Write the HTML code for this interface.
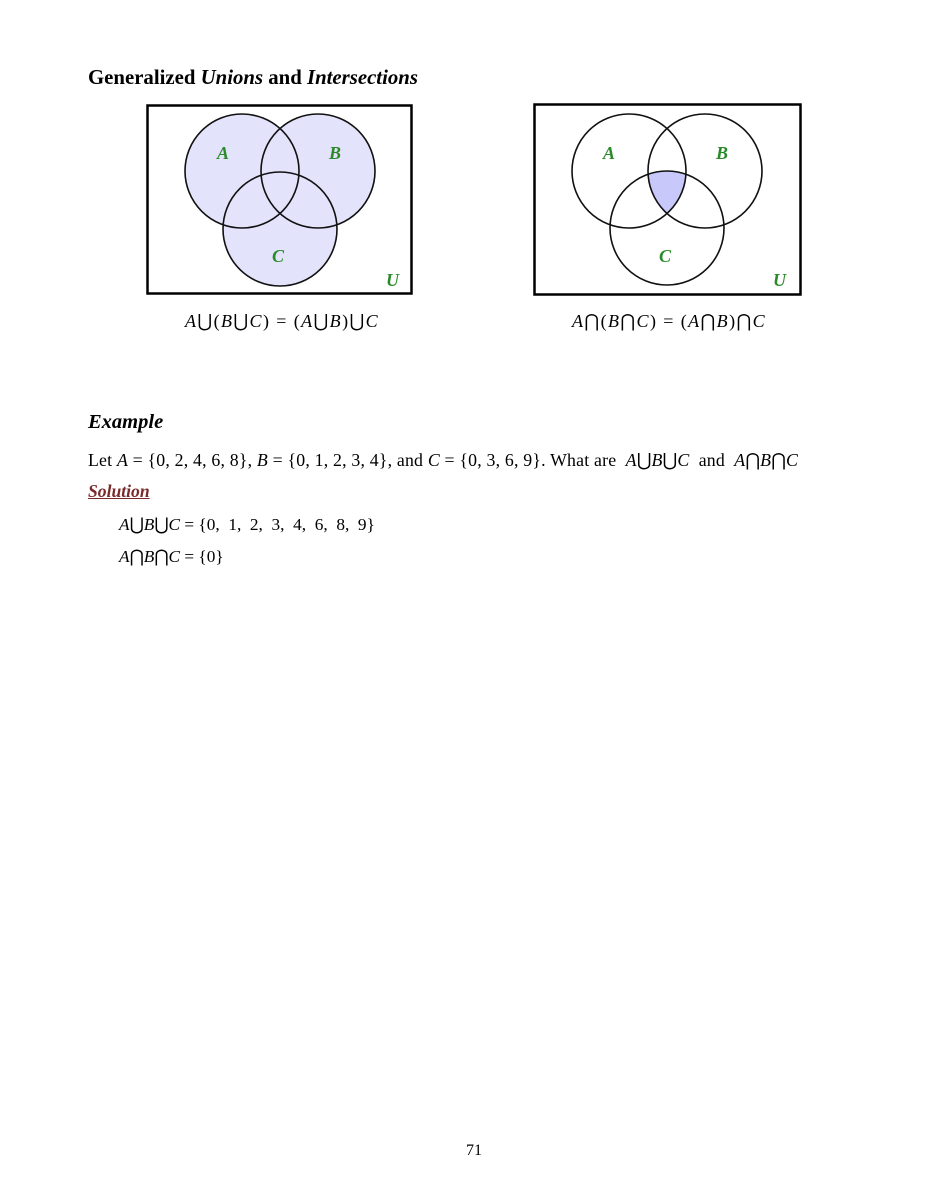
<!DOCTYPE html>
<html><head><meta charset="utf-8"><style>
body{margin:0;background:#fff;}
#page{position:relative;width:927px;height:1200px;background:#fff;font-family:"Liberation Serif",serif;color:#000;}
.t{position:absolute;white-space:nowrap;}
i{font-style:italic;}
</style></head><body>
<div id="page">
<div class="t" style="left:88px;top:66px;font-size:20.8px;font-weight:bold;">Generalized <i>Unions</i> and <i>Intersections</i></div>

<svg width="927" height="340" style="position:absolute;left:0;top:0">
 <defs>
  <clipPath id="cA"><circle cx="629" cy="171" r="57"/></clipPath>
  <clipPath id="cB"><circle cx="705" cy="171" r="57"/></clipPath>
 </defs>
 <g>
  <rect x="147.5" y="105.5" width="264" height="188" fill="#fff" stroke="#000" stroke-width="2.5"/>
  <circle cx="242" cy="171" r="57" fill="#e3e3fb"/>
  <circle cx="318" cy="171" r="57" fill="#e3e3fb"/>
  <circle cx="280" cy="229" r="57" fill="#e3e3fb"/>
  <circle cx="242" cy="171" r="57" fill="none" stroke="#111" stroke-width="1.6"/>
  <circle cx="318" cy="171" r="57" fill="none" stroke="#111" stroke-width="1.6"/>
  <circle cx="280" cy="229" r="57" fill="none" stroke="#111" stroke-width="1.6"/>
  <g font-family="Liberation Serif,serif" font-style="italic" font-weight="bold" font-size="18" fill="#2a8a2a">
   <text x="217" y="159">A</text><text x="329" y="159">B</text><text x="272" y="262">C</text><text x="386" y="286">U</text>
  </g>
 </g>
 <g>
  <rect x="534.5" y="104.5" width="266" height="190" fill="#fff" stroke="#000" stroke-width="2.5"/>
  <g clip-path="url(#cA)"><g clip-path="url(#cB)"><circle cx="667" cy="228" r="57" fill="#c8c8fa"/></g></g>
  <circle cx="629" cy="171" r="57" fill="none" stroke="#111" stroke-width="1.6"/>
  <circle cx="705" cy="171" r="57" fill="none" stroke="#111" stroke-width="1.6"/>
  <circle cx="667" cy="228" r="57" fill="none" stroke="#111" stroke-width="1.6"/>
  <g font-family="Liberation Serif,serif" font-style="italic" font-weight="bold" font-size="18" fill="#2a8a2a">
   <text x="603" y="159">A</text><text x="716" y="159">B</text><text x="659" y="262">C</text><text x="773" y="286">U</text>
  </g>
 </g>
</svg>

<div class="t" style="left:185px;top:311px;font-size:18px;letter-spacing:1.4px;"><i>A</i>⋃(<i>B</i>⋃<i>C</i>) = (<i>A</i>⋃<i>B</i>)⋃<i>C</i></div>
<div class="t" style="left:572px;top:311px;font-size:18px;letter-spacing:1.4px;"><i>A</i>⋂(<i>B</i>⋂<i>C</i>) = (<i>A</i>⋂<i>B</i>)⋂<i>C</i></div>

<div class="t" style="left:88px;top:411px;font-size:20.5px;font-weight:bold;font-style:italic;">Example</div>
<div class="t" style="left:88px;top:450px;font-size:17.8px;letter-spacing:0.2px;">Let <i>A</i> = {0, 2, 4, 6, 8}, <i>B</i> = {0, 1, 2, 3, 4}, and <i>C</i> = {0, 3, 6, 9}. What are &nbsp;<i>A</i>⋃<i>B</i>⋃<i>C</i>&nbsp; and &nbsp;<i>A</i>⋂<i>B</i>⋂<i>C</i></div>
<div class="t" style="left:88px;top:481px;font-size:17.6px;font-weight:bold;font-style:italic;color:#7a2a2a;text-decoration:underline;">Solution</div>
<div class="t" style="left:119px;top:515px;font-size:17.3px;"><i>A</i>⋃<i>B</i>⋃<i>C</i> = {0,&nbsp; 1,&nbsp; 2,&nbsp; 3,&nbsp; 4,&nbsp; 6,&nbsp; 8,&nbsp; 9}</div>
<div class="t" style="left:119px;top:547px;font-size:17.3px;"><i>A</i>⋂<i>B</i>⋂<i>C</i> = {0}</div>

<div class="t" style="left:466px;top:1142px;font-size:16px;">71</div>
</div>
</body></html>
